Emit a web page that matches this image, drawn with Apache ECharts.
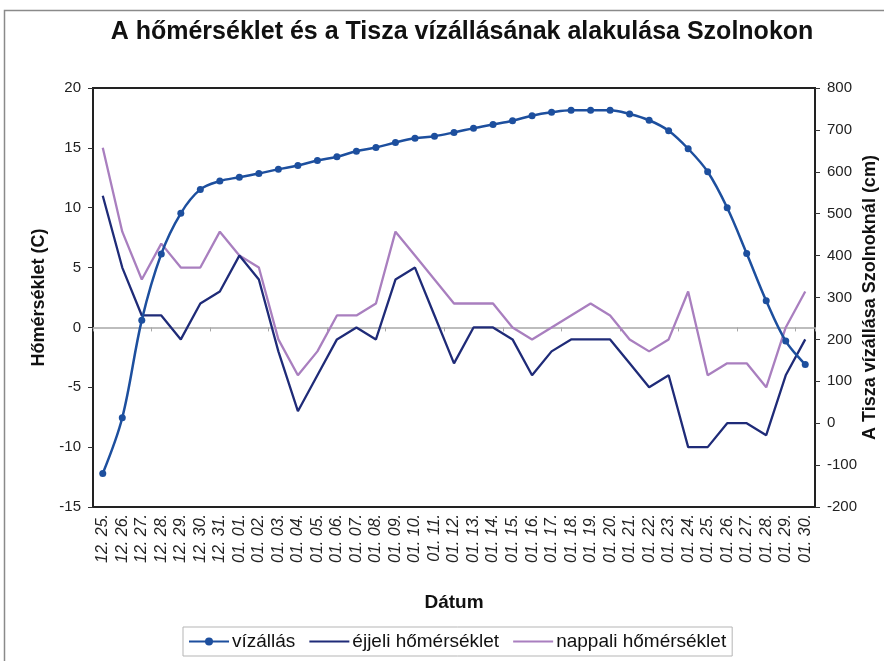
<!DOCTYPE html>
<html>
<head>
<meta charset="utf-8">
<script src="https://cdn.jsdelivr.net/npm/echarts@6/dist/echarts.min.js"></script>
<style>
html,body{margin:0;padding:0;background:#fff;}
#main{width:884px;height:661px;}
</style>
</head>
<body>
<div id="main"></div>
<script>
var categories = ["12. 25.","12. 26.","12. 27.","12. 28.","12. 29.","12. 30.","12. 31.",
  "01. 01.","01. 02.","01. 03.","01. 04.","01. 05.","01. 06.","01. 07.","01. 08.","01. 09.","01. 10.",
  "01. 11.","01. 12.","01. 13.","01. 14.","01. 15.","01. 16.","01. 17.","01. 18.","01. 19.","01. 20.",
  "01. 21.","01. 22.","01. 23.","01. 24.","01. 25.","01. 26.","01. 27.","01. 28.","01. 29.","01. 30."];
var vizallas = [-120, 13, 246, 404, 501, 558, 578, 587, 596, 606, 615, 627, 636, 649, 658, 670, 680, 685, 694,
  704, 713, 722, 734, 742, 747, 747, 747, 738, 723, 698, 655, 600, 514, 405, 292, 196, 140];
var ejjeli = [11, 5, 1, 1, -1, 2, 3, 6, 4, -2, -7, -4, -1, 0, -1, 4, 5, 1, -3,
  0, 0, -1, -4, -2, -1, -1, -1, -3, -5, -4, -10, -10, -8, -8, -9, -4, -1];
var nappali = [15, 8, 4, 7, 5, 5, 8, 6, 5, -1, -4, -2, 1, 1, 2, 8, 6, 4, 2,
  2, 2, 0, -1, 0, 1, 2, 1, -1, -2, -1, 3, -4, -3, -3, -5, 0, 3];
var leftTicks = {min: -15, max: 20, interval: 5};
var rightTicks = {min: -200, max: 800, interval: 100};

var FONT = "'Liberation Sans', Arial, sans-serif";
var chart = echarts.init(document.getElementById('main'), null, {renderer: 'canvas'});
var option = {
  backgroundColor: '#ffffff',
  animation: false,
  textStyle: {fontFamily: FONT},
  title: {
    text: 'A hőmérséklet és a Tisza vízállásának alakulása Szolnokon',
    left: 457, top: 15, textAlign: 'center',
    textStyle: {fontFamily: FONT, fontSize: 25, fontWeight: 'bold', color: '#111'}
  },
  graphic: [{
    type: 'rect', z: -10, silent: true,
    shape: {x: 4.5, y: 10.5, width: 900, height: 700},
    style: {fill: 'none', stroke: '#8a8a8a', lineWidth: 1.5}
  }],
  grid: {left: 93, right: 69, top: 88, bottom: 154, show: true,
    outerBoundsMode: 'none', containLabel: false,
    borderColor: '#222', borderWidth: 2, backgroundColor: '#fff'},
  legend: {
    left: 183, top: 627, orient: 'horizontal',
    data: [
      {name: 'vízállás'},
      {name: 'éjjeli hőmérséklet', itemStyle: {opacity: 0}},
      {name: 'nappali hőmérséklet', itemStyle: {opacity: 0}}
    ],
    itemWidth: 40, itemHeight: 10, itemGap: 13,
    padding: [5, 6, 5, 5],
    borderColor: '#b5b5b5', borderWidth: 1,
    textStyle: {fontFamily: FONT, fontSize: 19, color: '#111', padding: [0, 0, 0, -2]}
  },
  xAxis: [{
    type: 'category', data: categories, boundaryGap: true, position: 'bottom',
    name: 'Dátum', nameLocation: 'middle', nameGap: 86,
    nameTextStyle: {fontFamily: FONT, fontSize: 19, fontWeight: 'bold', color: '#111'},
    axisLine: {show: false, onZero: false}, axisTick: {show: false},
    axisLabel: {rotate: 90, interval: 0, margin: 7, fontFamily: FONT, fontSize: 16,
      fontStyle: 'italic', color: '#222'},
    splitLine: {show: false}
  }, {
    type: 'category', data: categories, boundaryGap: true, position: 'bottom',
    axisLine: {show: true, onZero: true, onZeroAxisIndex: 0, lineStyle: {color: '#a8a8a8', width: 1.5}},
    axisTick: {show: true, length: 4, lineStyle: {color: '#a8a8a8', width: 1}},
    axisLabel: {show: false}, splitLine: {show: false}
  }],
  yAxis: [{
    type: 'value', position: 'left',
    min: leftTicks.min, max: leftTicks.max, interval: leftTicks.interval,
    name: 'Hőmérséklet (C)', nameLocation: 'middle', nameGap: 44,
    nameTextStyle: {fontFamily: FONT, fontSize: 18, fontWeight: 'bold', color: '#111'},
    axisLine: {show: false}, axisTick: {show: true, length: 5, lineStyle: {color: '#333'}},
    axisLabel: {fontFamily: FONT, fontSize: 15, color: '#222', margin: 12},
    splitLine: {show: false}
  }, {
    type: 'value', position: 'right',
    min: rightTicks.min, max: rightTicks.max, interval: rightTicks.interval,
    name: 'A Tisza vízállása Szolnoknál (cm)', nameLocation: 'middle', nameGap: 46,
    nameMoveOverlap: false,
    nameTextStyle: {fontFamily: FONT, fontSize: 18, fontWeight: 'bold', color: '#111'},
    axisLine: {show: false}, axisTick: {show: true, length: 5, lineStyle: {color: '#333'}},
    axisLabel: {fontFamily: FONT, fontSize: 15, color: '#222', margin: 12},
    splitLine: {show: false}
  }],
  series: [{
    name: 'vízállás', type: 'line', xAxisIndex: 0, yAxisIndex: 1, data: vizallas,
    smooth: 0.35, symbol: 'circle', symbolSize: 7, z: 5,
    itemStyle: {color: '#1d4f9e'}, lineStyle: {color: '#1d4f9e', width: 2.5}
  }, {
    name: 'éjjeli hőmérséklet', type: 'line', xAxisIndex: 0, yAxisIndex: 0, data: ejjeli,
    symbol: 'none', showSymbol: false, z: 3,
    itemStyle: {color: '#1f2b78'}, lineStyle: {color: '#1f2b78', width: 2.3}
  }, {
    name: 'nappali hőmérséklet', type: 'line', xAxisIndex: 0, yAxisIndex: 0, data: nappali,
    symbol: 'none', showSymbol: false, z: 2,
    itemStyle: {color: '#a97fbf'}, lineStyle: {color: '#a97fbf', width: 2.3}
  }]
};
chart.setOption(option);
</script>
</body>
</html>
